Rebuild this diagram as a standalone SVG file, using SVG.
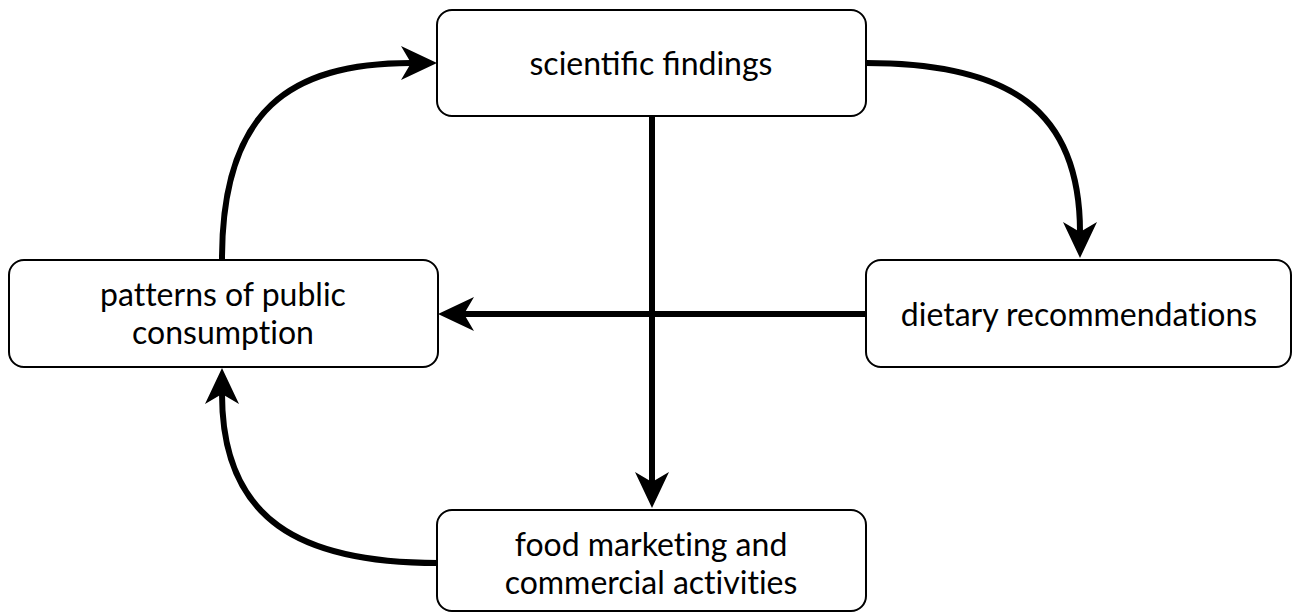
<svg xmlns="http://www.w3.org/2000/svg" width="1293" height="614" viewBox="0 0 1293 614">
<style>
.box{fill:#fff;stroke:#000;stroke-width:2}
.lbl{font-family:Lato,"Open Sans",sans-serif;font-size:32px;fill:#000;text-anchor:middle}
.nl{font-variant-ligatures:no-common-ligatures}
.con{fill:none;stroke:#000;stroke-width:6}
</style>
<defs>
<marker id="ah" markerUnits="userSpaceOnUse" markerWidth="60" markerHeight="60" refX="0" refY="0" viewBox="-20 -30 60 60" orient="auto" overflow="visible">
<path d="M26,0 L-10,-17 L0,0 L-10,17 Z" fill="#000"/>
</marker>
</defs>
<rect width="1293" height="614" fill="#fff"/>
<g id="connectors">
<path class="con" d="M866,63 C1010,63 1080,110 1080,232" marker-end="url(#ah)"/>
<path class="con" d="M652,116 L652,482" marker-end="url(#ah)"/>
<path class="con" d="M866,314 L464,314" marker-end="url(#ah)"/>
<path class="con" d="M222,259 C222,110 290,63 411,63" marker-end="url(#ah)"/>
<path class="con" d="M438,563 C300,563 222,520 222,394" marker-end="url(#ah)"/>
</g>
<g id="node-scientific">
<rect class="box" x="437" y="10" width="429" height="106" rx="15"/>
<text class="lbl" x="651" y="75">scientific findings</text>
</g>
<g id="node-patterns">
<rect class="box" x="9" y="260" width="429" height="107" rx="15"/>
<text class="lbl nl" x="223" y="306">patterns of public</text>
<text class="lbl nl" x="223" y="344">consumption</text>
</g>
<g id="node-dietary">
<rect class="box" x="866" y="260" width="425" height="107" rx="15"/>
<text class="lbl nl" x="1079" y="326">dietary recommendations</text>
</g>
<g id="node-food">
<rect class="box" x="437" y="510" width="429" height="101" rx="15"/>
<text class="lbl nl" x="651" y="556">food marketing and</text>
<text class="lbl nl" x="651" y="594">commercial activities</text>
</g>
</svg>
